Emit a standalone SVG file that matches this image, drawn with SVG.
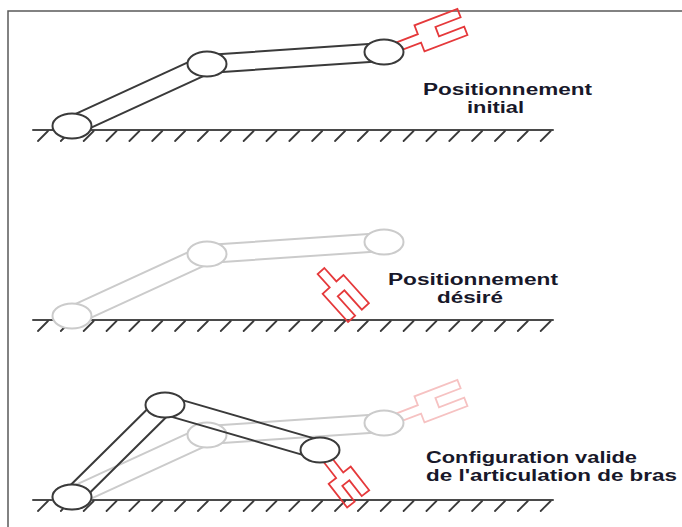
<svg xmlns="http://www.w3.org/2000/svg" xmlns:xlink="http://www.w3.org/1999/xlink" width="682" height="527" viewBox="0 0 682 527">
  <style>
    .frame { stroke: #5a5a5a; stroke-width: 1.5; fill: none; }
    .ground { stroke: #4a4a4a; stroke-width: 2; fill: none; stroke-linecap: round; }
    .hatch { stroke: #3a3a3a; stroke-width: 1.8; fill: none; stroke-linecap: round; }
    .link { fill: none; stroke-linejoin: round; }
    .joint { fill: #ffffff; }
    .dark { stroke: #3a3a3a; stroke-width: 2; }
    .faded { stroke: #cbcbcb; stroke-width: 2; }
    .grip { fill: none; stroke: #e5393b; stroke-width: 1.8; stroke-linejoin: miter; }
    .grip-faded { fill: none; stroke: #f6c2c2; stroke-width: 1.8; }
    .label { font-family: "Liberation Sans", Arial, sans-serif; font-weight: bold; font-size: 16px; fill: #18182a; }
  </style>
  <defs>
    <!-- ground: floor line with hatching underneath -->
    <g id="floor">
      <path class="ground" d="M33,130 H553"/>
      <path class="hatch" d="M38,141 l10,-10 m12.85,10 l10,-10 m12.85,10 l10,-10 m12.85,10 l10,-10 m12.85,10 l10,-10 m12.85,10 l10,-10 m12.85,10 l10,-10 m12.85,10 l10,-10 m12.85,10 l10,-10 m12.85,10 l10,-10 m12.85,10 l10,-10 m12.85,10 l10,-10 m12.85,10 l10,-10 m12.85,10 l10,-10 m12.85,10 l10,-10 m12.85,10 l10,-10 m12.85,10 l10,-10 m12.85,10 l10,-10 m12.85,10 l10,-10 m12.85,10 l10,-10 m12.85,10 l10,-10 m12.85,10 l10,-10 m12.85,10 l10,-10"/>
    </g>
    <!-- arm in its starting pose: two links and three joints -->
    <g id="arm-start">
      <polygon class="link" points="75.96,134.63 210.96,72.63 203.04,55.37 68.04,117.37"/>
      <polygon class="link" points="207.61,72.98 384.61,60.98 383.39,43.02 206.39,55.02"/>
      <ellipse class="joint" cx="72" cy="126" rx="19.5" ry="12.5"/>
      <ellipse class="joint" cx="207" cy="64" rx="19.5" ry="12.5"/>
      <ellipse class="joint" cx="384" cy="52" rx="19.5" ry="12.5"/>
    </g>
    <!-- gripper attached to the last joint of the starting pose -->
    <path id="grip-start" d="M0,-4.5 H38 V-14 H84 V-5 H57 V5 H84 V14 H38 V4.5 H0 Z" transform="translate(384,52) rotate(-21)"/>
  </defs>

  <!-- outer frame -->
  <g id="frame">
    <path class="frame" d="M8,527 V11 H682"/>
  </g>

  <!-- panel 1: initial position -->
  <g id="panel-initial">
    <use xlink:href="#floor"/>
    <use xlink:href="#grip-start" class="grip"/>
    <use xlink:href="#arm-start" class="dark"/>
    <text class="label" x="423" y="95" textLength="169" lengthAdjust="spacingAndGlyphs">Positionnement</text>
    <text class="label" x="467" y="113" textLength="57" lengthAdjust="spacingAndGlyphs">initial</text>
  </g>

  <!-- panel 2: desired position of the gripper -->
  <g id="panel-desired">
    <use xlink:href="#floor" transform="translate(0,190)"/>
    <use xlink:href="#arm-start" class="faded" transform="translate(0,190)"/>
    <path class="grip" d="M0,-4.5 H18 V-14 H56 V-4.5 H30 V4.5 H56 V14 H18 V4.5 H0 Z" transform="translate(321,271) rotate(48)"/>
    <text class="label" x="388" y="285" textLength="170" lengthAdjust="spacingAndGlyphs">Positionnement</text>
    <text class="label" x="437" y="303" textLength="66" lengthAdjust="spacingAndGlyphs">désiré</text>
  </g>

  <!-- panel 3: valid joint configuration reaching the target -->
  <g id="panel-solution">
    <use xlink:href="#floor" transform="translate(0,370)"/>
    <g transform="translate(0,371)">
      <use xlink:href="#grip-start" class="grip-faded"/>
      <use xlink:href="#arm-start" class="faded"/>
    </g>
    <path class="grip" d="M0,-4.5 H32 V-14 H62 V-4.5 H42 V4.5 H62 V14 H32 V4.5 H0 Z" transform="translate(320,450) rotate(52)"/>
    <g class="dark">
      <polygon class="link" points="78.68,503.75 171.68,411.75 158.32,398.25 65.32,490.25"/>
      <polygon class="link" points="162.35,414.12 317.35,459.12 322.65,440.88 167.65,395.88"/>
      <ellipse class="joint" cx="72" cy="497" rx="19.5" ry="12.5"/>
      <ellipse class="joint" cx="165" cy="405" rx="19.5" ry="12.5"/>
      <ellipse class="joint" cx="320" cy="450" rx="19.5" ry="12.5"/>
    </g>
    <text class="label" x="426" y="463" textLength="211" lengthAdjust="spacingAndGlyphs">Configuration valide</text>
    <text class="label" x="426" y="481" textLength="251" lengthAdjust="spacingAndGlyphs">de l'articulation de bras</text>
  </g>
</svg>
